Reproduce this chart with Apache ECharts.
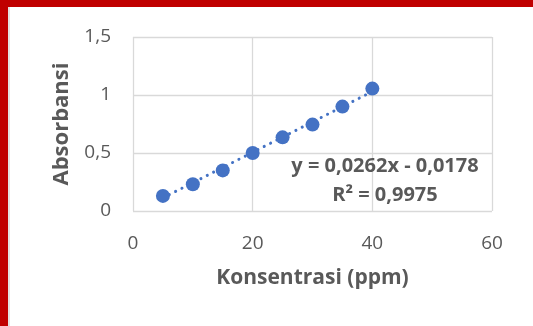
<!DOCTYPE html>
<html>
<head>
<meta charset="utf-8">
<script src="https://cdn.jsdelivr.net/npm/echarts@6/dist/echarts.min.js"></script>
<style>
  html, body { margin: 0; padding: 0; background: #fff; }
  #frame {
    position: absolute; left: 0; top: 0; width: 533px; height: 326px;
    box-sizing: border-box;
    border-top: 7px solid #c00000;
    border-left: 8px solid #c00000;
  }
  #edge { position: absolute; left: 8px; top: 7px; width: 2px; height: 319px; background: #e3e3e3; }
  #chart { position: absolute; left: 0; top: 0; width: 533px; height: 326px; }
</style>
</head>
<body>
<div id="chart"></div>
<div id="frame"></div>
<div id="edge"></div>
<script>
// concentration (ppm) vs absorbance
const konsentrasi = [5, 10, 15, 20, 25, 30, 35, 40]
const absorbansi = [0.13, 0.23, 0.35, 0.50, 0.635, 0.745, 0.90, 1.055]

// linear trendline endpoints (from the fitted equation)
const trendX = [5, 40]
const trendY = [0.113, 1.030]

const xTicks = [0, 20, 40, 60]
const yTicks = [0, 0.5, 1, 1.5]
const equationLines = ['y = 0,0262x - 0,0178', 'R² = 0,9975']

const font = '"Open Sans", sans-serif'
const textGray = '#595959'
const gridGray = '#d9d9d9'
const blue = '#4472c4'

const fmt = (v) => String(v).replace('.', ',')

const chart = echarts.init(document.getElementById('chart'))
chart.setOption({
  animation: false,
  grid: { left: 133, right: 41, top: 37, bottom: 115 },
  xAxis: {
    type: 'value',
    min: xTicks[0],
    max: xTicks[xTicks.length - 1],
    interval: xTicks[1] - xTicks[0],
    name: 'Konsentrasi (ppm)',
    nameLocation: 'middle',
    nameGap: 57,
    nameTextStyle: { color: textGray, fontSize: 21, fontWeight: 'bold', fontFamily: font },
    axisLine: { show: false },
    axisTick: { show: false },
    axisLabel: { color: textGray, fontSize: 19, fontFamily: font, margin: 23, formatter: fmt },
    splitLine: { show: true, lineStyle: { color: gridGray, width: 1.3 } }
  },
  yAxis: {
    type: 'value',
    min: yTicks[0],
    max: yTicks[yTicks.length - 1],
    interval: yTicks[1] - yTicks[0],
    name: 'Absorbansi',
    nameLocation: 'middle',
    nameGap: 60,
    nameTextStyle: { color: textGray, fontSize: 22, fontWeight: 'bold', fontFamily: font },
    axisLine: { show: false },
    axisTick: { show: false },
    axisLabel: { color: textGray, fontSize: 19, fontFamily: font, margin: 22, formatter: fmt },
    splitLine: { show: true, lineStyle: { color: gridGray, width: 1.3 } }
  },
  graphic: equationLines.map((line, i) => ({
    type: 'text',
    z: 10,
    style: {
      text: line,
      x: 385,
      y: 166 + i * 29,
      align: 'center',
      verticalAlign: 'middle',
      fill: textGray,
      font: 'bold 20px ' + font
    }
  })),
  series: [
    {
      type: 'line',
      data: trendX.map((x, i) => [x, trendY[i]]),
      showSymbol: false,
      lineStyle: { color: blue, width: 3, type: [0.1, 7], cap: 'round' },
      z: 1
    },
    {
      type: 'scatter',
      data: konsentrasi.map((x, i) => [x, absorbansi[i]]),
      symbolSize: 14,
      itemStyle: { color: blue, opacity: 1 },
      z: 2
    }
  ]
})
</script>
</body>
</html>
